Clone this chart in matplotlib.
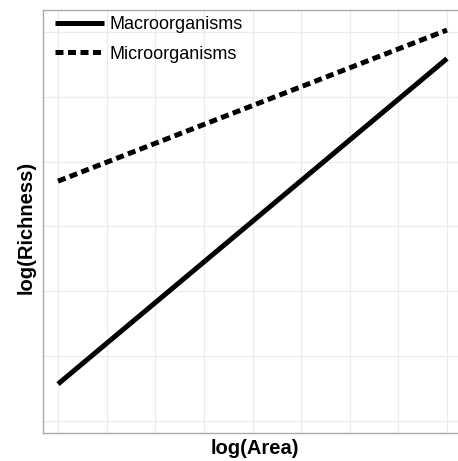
import matplotlib
matplotlib.use("Agg")
import matplotlib.pyplot as plt

# data (x in log(Area) units, y in log(Richness) units)
area = [0, 8]
macro = [0.57, 5.59]
micro = [3.70, 6.03]
series_names = ["Macroorganisms", "Microorganisms"]

plt.rcParams['font.family'] = ['Liberation Sans', 'DejaVu Sans']

W, H = 458, 461
fig = plt.figure(figsize=(W/100, H/100), dpi=100)
L, R, T, B = 43, 458, 10, 433
ax = fig.add_axes([L/W, 1-B/H, (R-L)/W, (B-T)/H])

# pixel -> data mapping: x=0 at 58px, x=8 at 447px; y=0 at 421px, y=6 at 32px
xs = (447-58)/8
ys = (421-32)/6
ax.set_xlim((L-58)/xs, (R-58)/xs)
ax.set_ylim(-(B-421)/ys, (421-T)/ys)

ax.set_xticks(range(0, 9))
ax.set_yticks(range(0, 7))
ax.grid(True, color='#ebebeb', linewidth=0.9)
ax.set_axisbelow(True)
ax.tick_params(length=0, labelbottom=False, labelleft=False)

for s in ['left', 'bottom', 'top']:
    ax.spines[s].set_color('#aaaaaa')
    ax.spines[s].set_linewidth(1.0)
ax.spines['right'].set_visible(False)

ax.plot(area, macro, color='black', linewidth=3.6, solid_capstyle='butt', label=series_names[0])
ax.plot(area, micro, color='black', linewidth=3.6, linestyle=(0, (1.6, 0.9)),
        dash_capstyle='butt', label=series_names[1])

leg = ax.legend(loc='upper left', bbox_to_anchor=(55/W, 1-16/H), bbox_transform=fig.transFigure,
                frameon=False, fontsize=13, handlelength=2.7, handletextpad=0.3,
                labelspacing=0.7, borderpad=0, borderaxespad=0)

fig.text((L+R)/2/W + 4/W, 1-448/H, 'log(Area)', ha='center', va='center', fontsize=14.5, fontweight='bold')
fig.text(26/W, 1-227/H, 'log(Richness)', ha='center', va='center', rotation=90, fontsize=14.5, fontweight='bold')

fig.savefig('out.png', dpi=100)
